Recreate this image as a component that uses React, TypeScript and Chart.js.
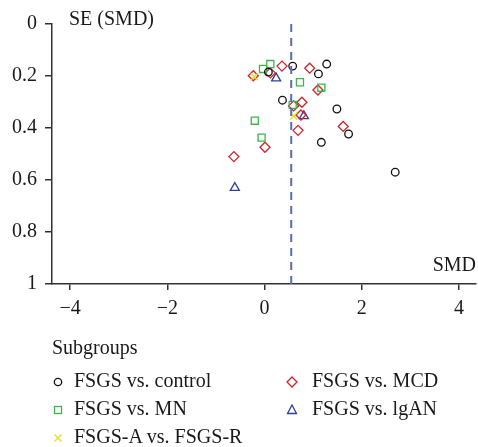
import React, { useEffect, useRef } from "react";
import { Chart, registerables } from "chart.js";

Chart.register(...registerables);

// ---- data ----
const xTicks = [-4, -2, 0, 2, 4];
const yTicks = [0, 0.2, 0.4, 0.6, 0.8, 1];
const pooledSMD = [0.55];
const seRange = [0, 1];

const controlSMD = [0.58, 1.28, 1.11, 0.08, 0.37, 1.49, 1.73, 1.17, 2.69];
const controlSE = [0.162, 0.154, 0.192, 0.185, 0.293, 0.327, 0.423, 0.455, 0.57];
const mnSMD = [0.12, -0.03, 0.73, 1.17, 0.58, -0.2, -0.06];
const mnSE = [0.154, 0.173, 0.224, 0.245, 0.311, 0.372, 0.437];
const mcdSMD = [0.36, 0.93, -0.23, 0.12, 1.1, 0.77, 0.6, 0.75, 1.62, 0.69, 0.01, -0.63];
const mcdSE = [0.162, 0.17, 0.199, 0.188, 0.254, 0.301, 0.315, 0.35, 0.394, 0.409, 0.474, 0.51];
const iganSMD = [0.24, 0.81, -0.61];
const iganSE = [0.209, 0.354, 0.63];
const arSMD = [-0.21, 0.6];
const arSE = [0.203, 0.354];

const seriesNames = [
  "FSGS vs. control",
  "FSGS vs. MN",
  "FSGS-A vs. FSGS-R",
  "FSGS vs. MCD",
  "FSGS vs. lgAN",
];
const legendTitle = "Subgroups";
const xTitle = "SMD";
const yTitle = "SE (SMD)";

const FONT = '"Liberation Serif", "Times New Roman", serif';
const C_BLACK = "#111111";
const C_GREEN = "#3cb54a";
const C_RED = "#d2232a";
const C_BLUE = "#2e3f9c";
const C_YELLOW = "#e2df1e";
const C_DASH = "#5b6bb5";
const C_AXIS = "#333333";
const C_TEXT = "#1a1a1a";

const pts = (xs: number[], ys: number[]) => xs.map((x, i) => ({ x, y: ys[i] }));

const titlesPlugin = {
  id: "axisTitles",
  afterDraw(chart: any) {
    const { ctx, chartArea } = chart;
    ctx.save();
    ctx.font = `20px ${FONT}`;
    ctx.fillStyle = C_TEXT;
    ctx.textBaseline = "alphabetic";
    ctx.textAlign = "left";
    ctx.fillText(yTitle, chartArea.left + 17, chartArea.top + 1);
    ctx.textAlign = "right";
    ctx.fillText(xTitle, chartArea.right, chartArea.bottom - 13);
    ctx.restore();
  },
};

function Symbol({ kind, color }: { kind: string; color: string }) {
  const s = 12;
  const c = 6;
  let el: any = null;
  if (kind === "circle") el = <circle cx={c} cy={c} r={3.7} fill="none" stroke={color} strokeWidth={1.3} />;
  if (kind === "rect") el = <rect x={c - 3.5} y={c - 3.5} width={7} height={7} fill="none" stroke={color} strokeWidth={1.3} />;
  if (kind === "rectRot")
    el = <polygon points={`${c},${c - 5} ${c + 5},${c} ${c},${c + 5} ${c - 5},${c}`} fill="none" stroke={color} strokeWidth={1.3} />;
  if (kind === "triangle")
    el = <polygon points={`${c},${c - 5} ${c + 4.5},${c + 3.5} ${c - 4.5},${c + 3.5}`} fill="none" stroke={color} strokeWidth={1.3} />;
  if (kind === "crossRot")
    el = (
      <g stroke={color} strokeWidth={1.3}>
        <line x1={c - 3.5} y1={c - 3.5} x2={c + 3.5} y2={c + 3.5} />
        <line x1={c - 3.5} y1={c + 3.5} x2={c + 3.5} y2={c - 3.5} />
      </g>
    );
  return (
    <svg width={s} height={s} style={{ display: "block" }}>
      {el}
    </svg>
  );
}

export default function App() {
  const ref = useRef<HTMLCanvasElement | null>(null);

  useEffect(() => {
    if (!ref.current) return;
    const common = { showLine: false, borderWidth: 1.3, backgroundColor: "rgba(0,0,0,0)" };
    const chart = new Chart(ref.current, {
      type: "scatter",
      data: {
        datasets: [
          {
            label: "pooled",
            data: [
              { x: pooledSMD[0], y: seRange[0] },
              { x: pooledSMD[0], y: seRange[1] },
            ],
            showLine: true,
            borderColor: C_DASH,
            borderWidth: 2,
            borderDash: [8, 6],
            pointRadius: 0,
          } as any,
          { ...common, label: seriesNames[0], data: pts(controlSMD, controlSE), pointStyle: "circle", pointRadius: 3.8, borderColor: C_BLACK },
          { ...common, label: seriesNames[1], data: pts(mnSMD, mnSE), pointStyle: "rect", pointRadius: 5, borderColor: C_GREEN },
          { ...common, label: seriesNames[2], data: pts(arSMD, arSE), pointStyle: "crossRot", pointRadius: 5, borderColor: C_YELLOW },
          { ...common, label: seriesNames[3], data: pts(mcdSMD, mcdSE), pointStyle: "rectRot", pointRadius: 5, borderColor: C_RED },
          { ...common, label: seriesNames[4], data: pts(iganSMD, iganSE), pointStyle: "triangle", pointRadius: 5.2, borderColor: C_BLUE },
        ],
      },
      options: {
        animation: false,
        responsive: false,
        events: [],
        layout: { autoPadding: false, padding: { top: 24, left: 0, right: 2, bottom: 123 } },
        plugins: { legend: { display: false }, tooltip: { enabled: false } },
        scales: {
          x: {
            type: "linear",
            min: -4.372,
            max: 4.352,
            afterBuildTicks: (s: any) => {
              s.ticks = xTicks.map((v) => ({ value: v }));
            },
            afterFit: (s: any) => {
              s.height = 40;
              s.paddingLeft = 0;
              s.paddingRight = 0;
            },
            grid: { drawOnChartArea: false, drawTicks: true, tickLength: 6, color: C_AXIS, lineWidth: 1.5 },
            border: { display: true, color: C_AXIS, width: 1.5 },
            ticks: {
              padding: 7,
              color: C_TEXT,
              font: { family: FONT, size: 20 },
              callback: (v: any) => String(v).replace("-", "\u2212"),
            },
          },
          y: {
            type: "linear",
            min: 0,
            max: 1,
            reverse: true,
            afterBuildTicks: (s: any) => {
              s.ticks = yTicks.map((v) => ({ value: v }));
            },
            afterFit: (s: any) => {
              s.width = 52;
              s.paddingTop = 0;
              s.paddingBottom = 0;
            },
            grid: { drawOnChartArea: false, drawTicks: true, tickLength: 7, color: C_AXIS, lineWidth: 1.5 },
            border: { display: true, color: C_AXIS, width: 1.5 },
            ticks: {
              padding: 8,
              color: C_TEXT,
              font: { family: FONT, size: 20 },
              callback: (v: any) => String(v),
            },
          },
        },
      } as any,
      plugins: [titlesPlugin],
    });
    return () => chart.destroy();
  }, []);

  const items = [
    { name: seriesNames[0], kind: "circle", color: C_BLACK, col: 0, row: 0 },
    { name: seriesNames[1], kind: "rect", color: C_GREEN, col: 0, row: 1 },
    { name: seriesNames[2], kind: "crossRot", color: C_YELLOW, col: 0, row: 2 },
    { name: seriesNames[3], kind: "rectRot", color: C_RED, col: 1, row: 0 },
    { name: seriesNames[4], kind: "triangle", color: C_BLUE, col: 1, row: 1 },
  ];
  const colSym = [52, 286];
  const colText = [74, 312];

  return (
    <div style={{ position: "fixed", left: 0, top: 0, width: 478, height: 447, background: "#fff", fontFamily: FONT }}>
      <canvas ref={ref} width={478} height={447} style={{ position: "absolute", left: 0, top: 0 }} />
      <div style={{ position: "absolute", left: 52, top: 337, fontSize: 20, lineHeight: "20px", color: C_TEXT, whiteSpace: "nowrap" }}>
        {legendTitle}
      </div>
      {items.map((it) => (
        <React.Fragment key={it.name}>
          <div style={{ position: "absolute", left: colSym[it.col], top: 376 + it.row * 28 }}>
            <Symbol kind={it.kind} color={it.color} />
          </div>
          <div
            style={{
              position: "absolute",
              left: colText[it.col],
              top: 370 + it.row * 28,
              fontSize: 20,
              lineHeight: "20px",
              color: C_TEXT,
              whiteSpace: "nowrap",
            }}
          >
            {it.name}
          </div>
        </React.Fragment>
      ))}
    </div>
  );
}
